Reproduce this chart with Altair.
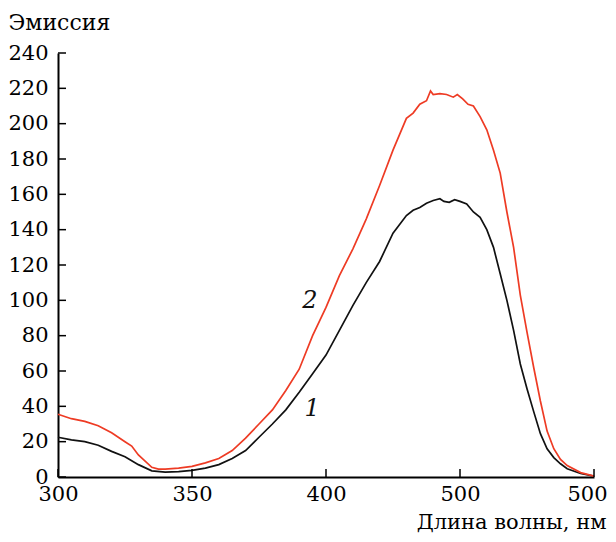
import altair as alt
import pandas as pd

# Curve 1 (black)
nm_1 = [300, 305, 310, 315, 320, 325, 330, 335, 340, 345, 350, 355, 360, 365, 370,
        375, 380, 385, 390, 395, 400, 405, 410, 415, 420, 425, 430, 432.5, 435, 437.5,
        440, 442.5, 444, 446, 448, 450, 452.5, 455, 457.5, 460, 462.5, 465, 467.5, 470,
        472.5, 475, 477.5, 480, 482.5, 485, 487.5, 490, 495, 500]
em_1 = [22.5, 21, 20, 18, 14.5, 11.5, 7, 3.5, 2.8, 3, 3.8, 5, 7, 10.5, 15,
        22.5, 30, 38, 48, 58.5, 69, 83, 97, 110, 122, 138, 148, 151, 152.5, 155,
        156.5, 157.5, 156, 155.5, 157, 156, 154.5, 150, 147, 140, 130, 115, 100, 83,
        64, 50, 37, 24.5, 16, 11, 7.5, 4.7, 2, 0.5]

# Curve 2 (red)
nm_2 = [300, 305, 310, 315, 320, 325, 327.5, 330, 335, 337.5, 340, 345, 350, 355, 360,
        365, 370, 375, 380, 385, 390, 395, 400, 405, 410, 415, 420, 425, 430, 432.5,
        435, 437.5, 439, 440, 442.5, 445, 447.5, 449, 451, 453, 455, 457.5, 460, 462.5,
        465, 467.5, 470, 472.5, 475, 477.5, 480, 482.5, 485, 487.5, 490, 495, 500]
em_2 = [35.5, 33, 31.5, 29, 25, 20, 17.5, 12.5, 5.5, 4.5, 4.5, 5, 6, 8, 10.5,
        15, 22, 30, 38, 49, 61, 80, 96, 114, 129, 146, 165, 185, 203, 206,
        211, 213, 218.5, 216.5, 217, 216.5, 215, 216.5, 214, 211, 210, 204, 196.5, 185,
        172, 150, 130, 103, 82, 62, 43, 26, 16, 10, 6.5, 2.5, 0.5]

series_names = ["1", "2"]
series_colors = ["#111111", "#ee3b24"]

x_tick_values = [300, 350, 400, 450, 500]
x_tick_labels = ["300", "350", "400", "500", "500"]
y_tick_values = [0, 20, 40, 60, 80, 100, 120, 140, 160, 180, 200, 220, 240]

label_text = ["1", "2"]
label_nm = [394.8, 394.0]
label_em = [38.5, 99.6]

FONT = "DejaVu Serif"
FS = 21
W, H = 536, 424

df = pd.concat([
    pd.DataFrame({"nm": nm_1, "em": em_1, "s": "1"}),
    pd.DataFrame({"nm": nm_2, "em": em_2, "s": "2"}),
])

expr = "datum.label"
for v, lab in zip(reversed(x_tick_values), reversed(x_tick_labels)):
    expr = f"datum.value == {v} ? '{lab}' : ({expr})"

xscale = alt.Scale(domain=[300, 500], nice=False, zero=False)
yscale = alt.Scale(domain=[0, 240], nice=False)

xaxis = alt.Axis(values=x_tick_values, labelExpr=expr, ticks=False, tickSize=0,
                 grid=False, domainColor="black", domainWidth=2,
                 labelFont=FONT, labelFontSize=FS, labelColor="black",
                 labelPadding=6, labelFlush=False,
                 labelOffset={"condition": {"test": "datum.value == 500", "value": -7}, "value": 0},
                 title="Длина волны, нм", titleFont=FONT, titleFontSize=21,
                 titleFontWeight="normal", titleColor="black",
                 titleAnchor="end", titleAlign="right", titleBaseline="alphabetic",
                 titleX=548, titleY=51)
yaxis = alt.Axis(values=y_tick_values, ticks=False, tickSize=0, grid=False,
                 domainColor="black", domainWidth=2,
                 labelFont=FONT, labelFontSize=FS, labelColor="black",
                 labelPadding=10, labelFlush=False,
                 title="Эмиссия", titleFont=FONT, titleFontSize=22,
                 titleFontWeight="normal", titleColor="black", titleAngle=0,
                 titleAlign="left", titleBaseline="alphabetic",
                 titleX=-50, titleY=-24)

lines = alt.Chart(df).mark_line(strokeWidth=1.7).encode(
    x=alt.X("nm:Q", scale=xscale, axis=xaxis),
    y=alt.Y("em:Q", scale=yscale, axis=yaxis),
    color=alt.Color("s:N", scale=alt.Scale(domain=series_names, range=series_colors), legend=None),
    order=alt.Order("nm:Q"),
)

labels = alt.Chart(pd.DataFrame({"t": label_text, "nm": label_nm, "em": label_em})).mark_text(
    font=FONT, fontSize=24, fontStyle="italic", color="#111111", baseline="middle", align="center"
).encode(
    x=alt.X("nm:Q", scale=xscale, axis=xaxis),
    y=alt.Y("em:Q", scale=yscale, axis=yaxis),
    text="t:N",
)

xticks = alt.Chart(pd.DataFrame({"nm": x_tick_values})).mark_rule(color="black", strokeWidth=1.5).encode(
    x=alt.X("nm:Q", scale=xscale, axis=xaxis),
    y=alt.value(H),
    y2=alt.value(H - 8),
)

yticks = alt.Chart(pd.DataFrame({"em": y_tick_values})).mark_rule(color="black", strokeWidth=1.5).encode(
    y=alt.Y("em:Q", scale=yscale, axis=yaxis),
    x=alt.value(0),
    x2=alt.value(8),
)

chart = alt.layer(lines, labels, xticks, yticks).properties(
    width=W, height=H,
    autosize=alt.AutoSizeParams(type="none"),
    padding={"left": 50, "top": 45, "right": 14, "bottom": 57},
    background="white",
).configure(font=FONT).configure_view(strokeWidth=0)

chart.save("out.html", embed_options={"renderer": "svg", "actions": False})
